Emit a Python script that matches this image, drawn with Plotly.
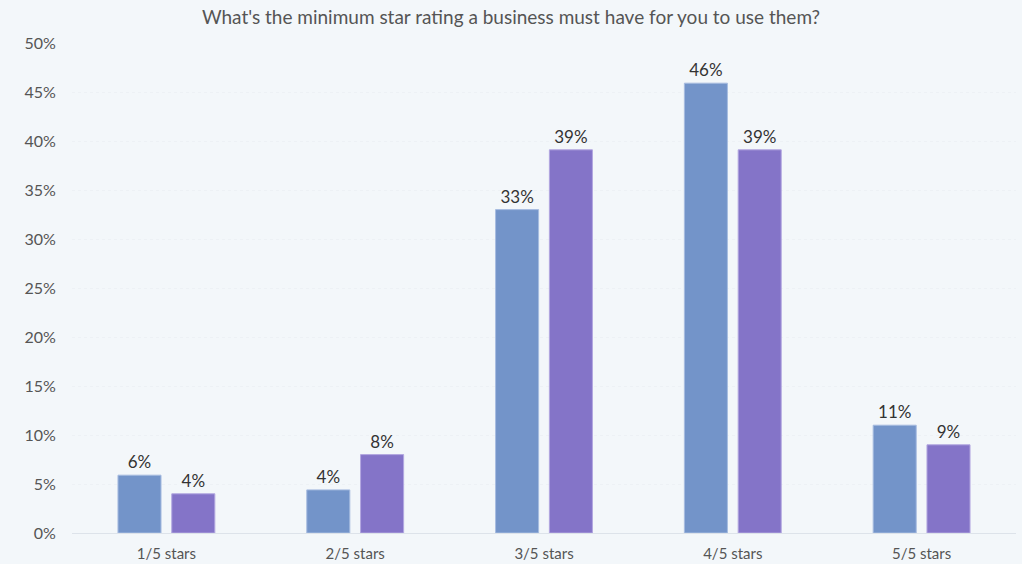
import plotly.graph_objects as go

categories = ['1/5 stars', '2/5 stars', '3/5 stars', '4/5 stars', '5/5 stars']
series_a = [5.9, 4.4, 33.0, 45.9, 11.0]
series_b = [4.0, 8.0, 39.1, 39.1, 9.0]
labels_a = ['6%', '4%', '33%', '46%', '11%']
labels_b = ['4%', '8%', '39%', '39%', '9%']
y_ticks = [0, 5, 10, 15, 20, 25, 30, 35, 40, 45, 50]
y_tick_text = [f'{v}%' for v in y_ticks]

fig = go.Figure()

fig.add_trace(go.Bar(
    x=categories, y=series_a, text=labels_a,
    textposition='outside', cliponaxis=False,
    marker=dict(color='#7394C9', line=dict(color='#A7BCE0', width=1)),
    textfont=dict(size=17, color='#333333'),
    showlegend=False
))

fig.add_trace(go.Bar(
    x=categories, y=series_b, text=labels_b,
    textposition='outside', cliponaxis=False,
    marker=dict(color='#8474C8', line=dict(color='#B2A7E0', width=1)),
    textfont=dict(size=17, color='#333333'),
    showlegend=False
))

fig.update_layout(
    width=1022, height=564,
    margin=dict(l=72, r=6, t=43, b=31),
    paper_bgcolor='#F3F7FA',
    plot_bgcolor='#F3F7FA',
    font=dict(family='Lato, sans-serif', size=15, color='#555555'),
    barmode='group',
    bargap=0.43,
    bargroupgap=0.2,
    title=dict(
        text="What's the minimum star rating a business must have for you to use them?",
        x=0.5, xanchor='center', y=0.97, yanchor='middle',
        font=dict(size=19, color='#555555')
    ),
    xaxis=dict(
        showline=True, linecolor='#DDE3EA', linewidth=1, automargin=False,
        showgrid=False, ticks='outside', ticklen=7, tickcolor='rgba(0,0,0,0)',
        tickfont=dict(size=15, color='#555555')
    ),
    yaxis=dict(
        range=[0, 50], tickmode='array', tickvals=y_ticks, ticktext=y_tick_text,
        showgrid=True, gridcolor='#EDF1F5', griddash='dot', gridwidth=1,
        zeroline=False, showline=False, ticks='outside', ticklen=12,
        automargin=False,
        tickcolor='rgba(0,0,0,0)', tickfont=dict(size=16, color='#555555')
    ),
)

# drop the default page margin so the chart fills the window
fig.write_html("out.html", config={'displayModeBar': False},
               post_script="document.body.style.margin='0';")
